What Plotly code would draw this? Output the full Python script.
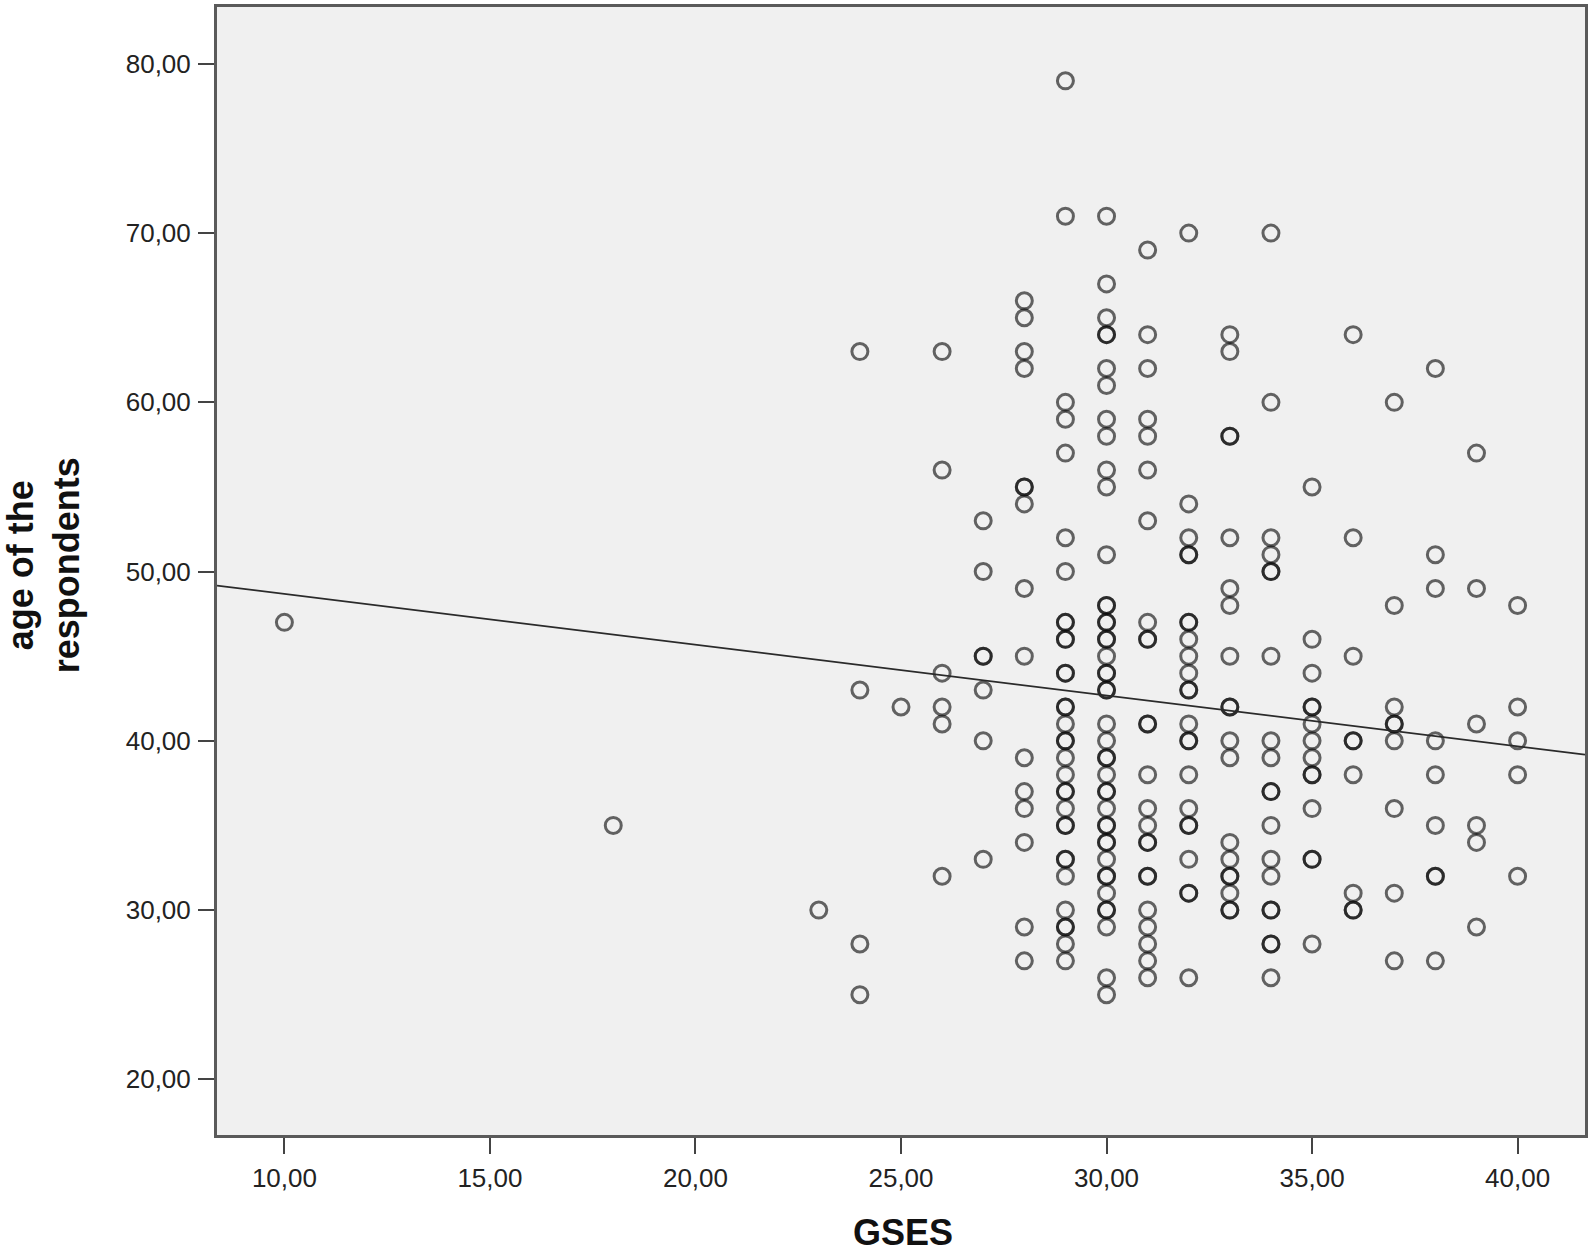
import plotly.graph_objects as go

# age of the respondents, grouped by GSES score
age_10 = [47]
age_18 = [35]
age_23 = [30]
age_24 = [63, 43, 28, 25]
age_25 = [42]
age_26 = [63, 56, 44, 42, 41, 32]
age_27 = [53, 50, 45, 45, 43, 40, 33]
age_28 = [66, 65, 63, 62, 55, 55, 54, 49, 45, 39, 37, 36, 34, 29, 27]
age_29 = [79, 71, 60, 59, 57, 52, 50, 47, 47, 46, 46, 44, 44, 42, 42, 41, 40, 40,
          39, 38, 37, 37, 36, 35, 35, 33, 33, 32, 30, 29, 29, 28, 27]
age_30 = [71, 67, 65, 64, 64, 62, 61, 59, 58, 56, 55, 51, 48, 48, 47, 47, 46, 46,
          45, 44, 44, 43, 43, 41, 40, 39, 39, 38, 37, 37, 36, 35, 35, 34, 34, 33,
          32, 32, 31, 30, 30, 29, 26, 25]
age_31 = [69, 64, 62, 59, 58, 56, 53, 47, 46, 46, 41, 41, 38, 36, 35, 34, 34, 32,
          32, 30, 29, 28, 27, 26]
age_32 = [70, 54, 52, 51, 51, 47, 47, 46, 45, 44, 43, 43, 41, 40, 40, 38, 36, 35,
          35, 33, 31, 31, 26]
age_33 = [64, 63, 58, 58, 52, 49, 48, 45, 42, 42, 40, 39, 34, 33, 32, 32, 31, 30, 30]
age_34 = [70, 60, 52, 51, 50, 50, 45, 40, 39, 37, 37, 35, 33, 32, 30, 30, 28, 28, 26]
age_35 = [55, 46, 44, 42, 42, 41, 40, 39, 38, 38, 36, 33, 33, 28]
age_36 = [64, 52, 45, 40, 40, 38, 31, 30, 30]
age_37 = [60, 48, 42, 41, 41, 40, 36, 31, 27]
age_38 = [62, 51, 49, 40, 38, 35, 32, 32, 27]
age_39 = [57, 49, 41, 35, 34, 29]
age_40 = [48, 42, 40, 38, 32]

gses_scores = [10, 18, 23, 24, 25, 26, 27, 28, 29, 30, 31, 32, 33, 34, 35, 36, 37, 38, 39, 40]
age_groups = [age_10, age_18, age_23, age_24, age_25, age_26, age_27, age_28, age_29,
              age_30, age_31, age_32, age_33, age_34, age_35, age_36, age_37, age_38,
              age_39, age_40]

# fit line as drawn in the source chart (age = intercept + slope * GSES)
fit_intercept = 51.68
fit_slope = -0.30

x_ticks = [10, 15, 20, 25, 30, 35, 40]
y_ticks = [20, 30, 40, 50, 60, 70, 80]

gses = []
age = []
for score, ages in zip(gses_scores, age_groups):
    gses += [score] * len(ages)
    age += ages

x_range = [8.36, 41.64]
y_range = [16.71, 83.36]

fit_x = x_range
fit_y = [fit_intercept + fit_slope * v for v in fit_x]

fig = go.Figure()
fig.add_trace(go.Scatter(
    x=gses, y=age, mode='markers',
    marker=dict(symbol='circle-open', size=16, color='rgba(10,10,10,0.62)',
                line=dict(width=3)),
    showlegend=False
))
fig.add_trace(go.Scatter(
    x=fit_x, y=fit_y, mode='lines',
    line=dict(color='#2a2a2a', width=1.7),
    showlegend=False
))

axis_common = dict(
    showgrid=False, zeroline=False,
    showline=True, mirror=True, linecolor='#5a5a5a', linewidth=3,
    ticks='outside', ticklen=16, tickwidth=2, tickcolor='#444444',
    tickformat='.2f',
    tickfont=dict(family='Liberation Sans, Arial', size=26, color='#222222'),
)

fig.update_xaxes(range=x_range, tickvals=x_ticks, ticklabelstandoff=2, **axis_common)
fig.update_yaxes(range=y_range, tickvals=y_ticks, ticklabelstandoff=2, **axis_common)

fig.update_layout(
    width=1593, height=1252,
    margin=dict(l=217, r=8, t=4, b=117),
    paper_bgcolor='white',
    plot_bgcolor='#f0f0f0',
    separators=',.',
    annotations=[
        dict(text='<b>age of the<br>respondents</b>', textangle=-90,
             xref='paper', yref='paper', x=-0.1265, y=0.505,
             xanchor='center', yanchor='middle', showarrow=False,
             font=dict(family='Liberation Sans, Arial', size=36, color='#111111')),
        dict(text='<b>GSES</b>',
             xref='paper', yref='paper', x=0.5015, y=-0.0867,
             xanchor='center', yanchor='middle', showarrow=False,
             font=dict(family='Liberation Sans, Arial', size=36, color='#111111')),
    ],
)

# drop the default page margin so the figure sits flush in the window
fig.write_html("out.html", config={'displayModeBar': False},
               post_script="document.body.style.margin='0';")
